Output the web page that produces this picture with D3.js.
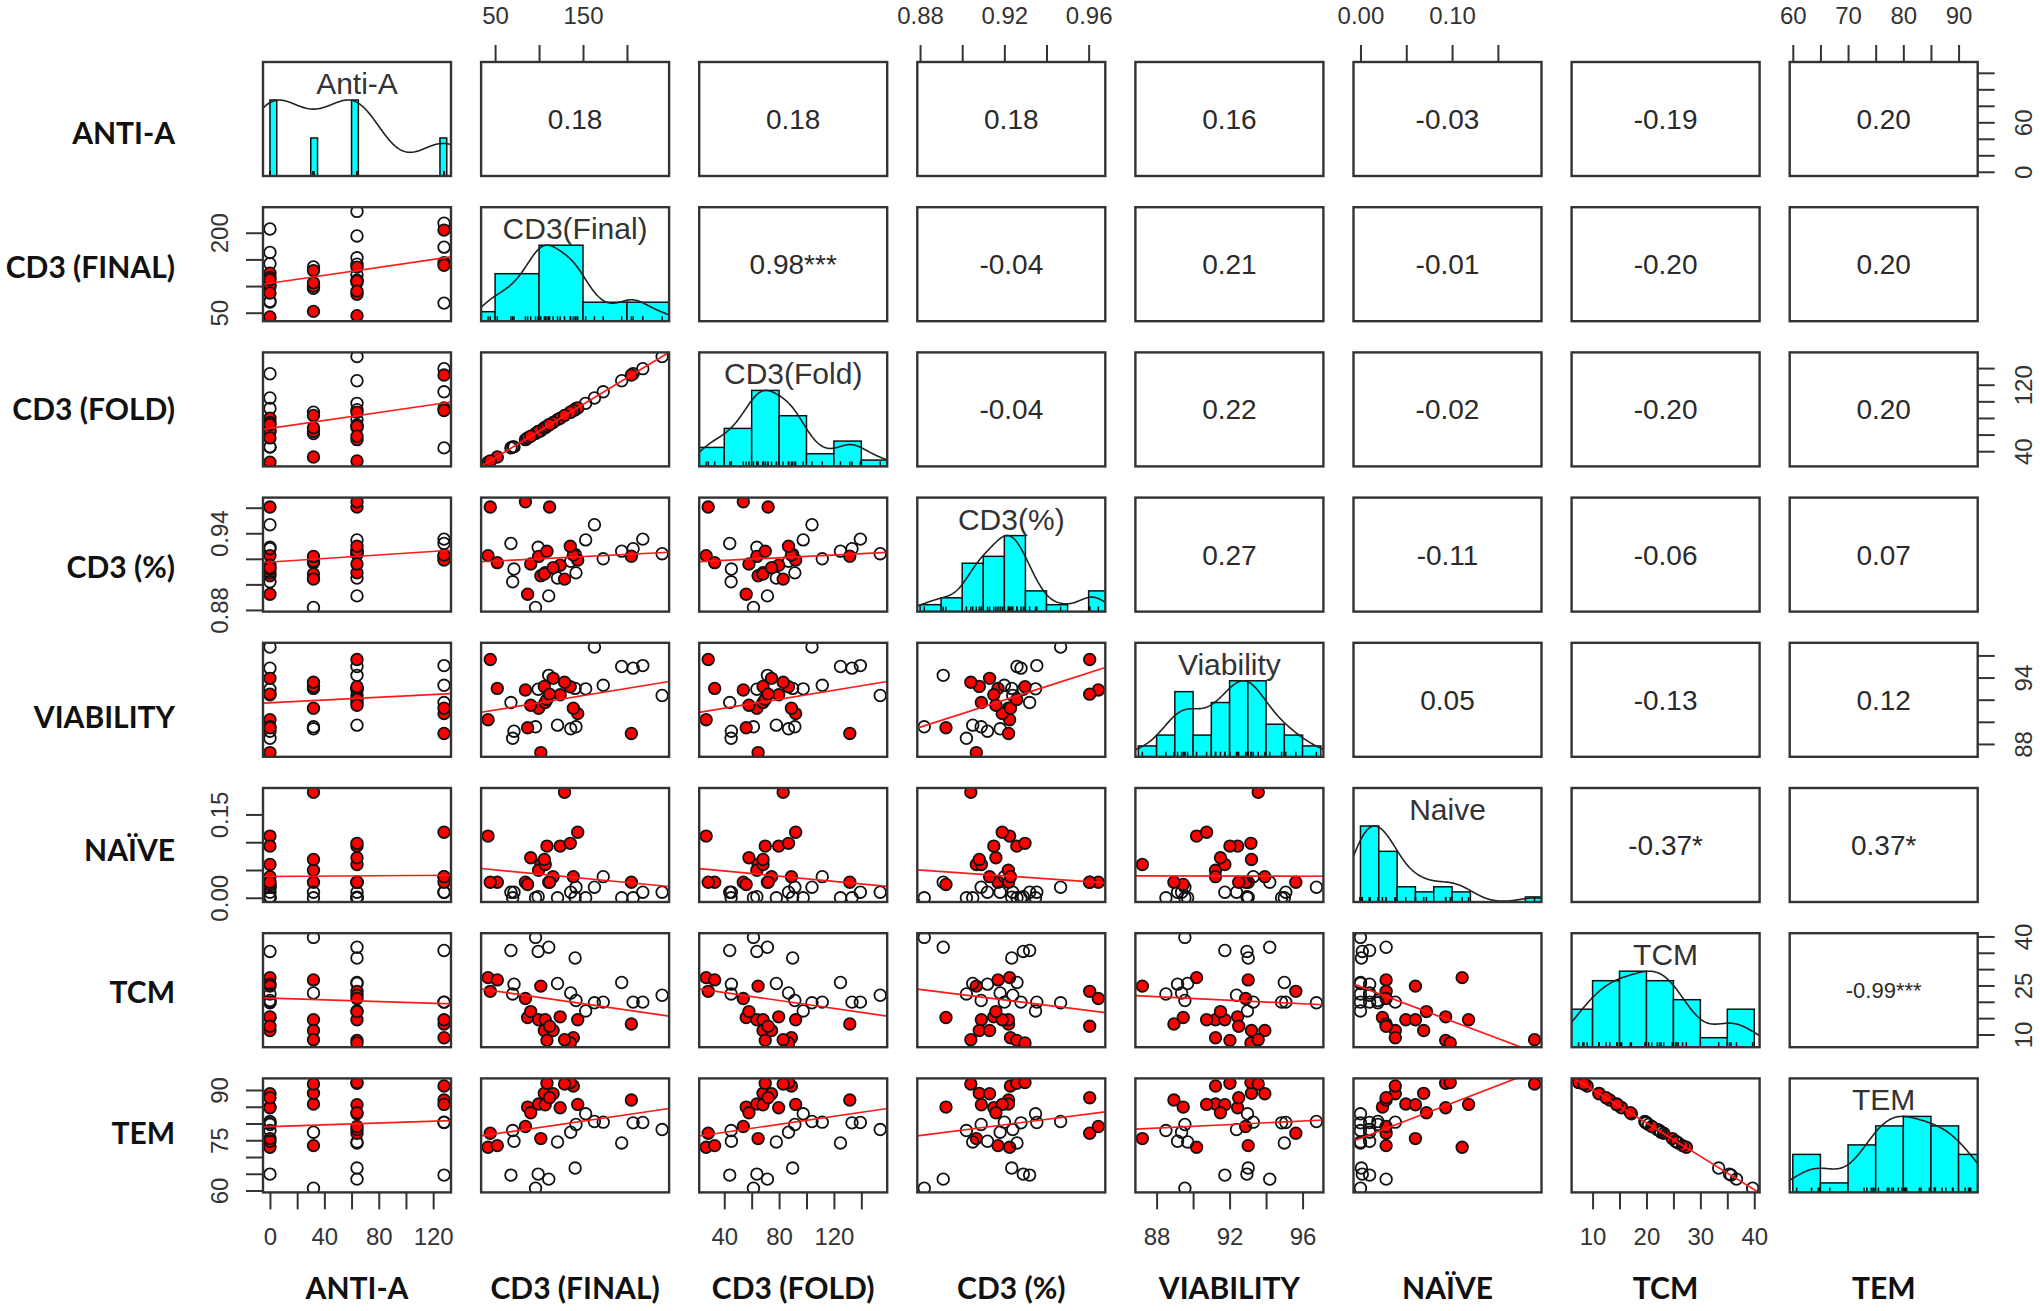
<!DOCTYPE html>
<html><head><meta charset="utf-8">
<script src="https://cdn.jsdelivr.net/npm/d3@7"></script>
<style>html,body{margin:0;padding:0;background:#fff}svg{display:block}</style>
</head><body>
<svg id="chart" width="2040" height="1311"></svg>
<script>
// ---------------- DATA ----------------
const rowLabels  = ["ANTI-A","CD3 (FINAL)","CD3 (FOLD)","CD3 (%)","VIABILITY","NAÏVE","TCM","TEM"];
const diagTitles = ["Anti-A","CD3(Final)","CD3(Fold)","CD3(%)","Viability","Naive","TCM","TEM"];

const antiA     = [32,64,128,0,64,0,32,64,0,0,64,64,0,32,0,64,64,128,64,0,128,0,0,128,32,64,0,128,32,0,128,64,64,32,0,64];
const cd3Final  = [96.0,111.0,68.0,99.0,141.0,42.0,52.5,194.0,102.0,71.5,121.0,44.5,70.0,136.0,142.0,240.0,84.5,173.0,153.0,207.0,218.0,163.0,87.0,205.0,99.5,107.0,124.0,144.0,106.0,116.0,139.0,109.0,135.5,129.0,112.0,90.5];
const cd3Fold   = [61.3,71.5,44.0,63.8,89.9,26.8,33.0,124.8,64.7,45.2,78.0,28.3,45.0,86.9,91.5,153.8,53.9,111.5,97.6,133.2,139.3,104.0,56.0,131.6,63.8,68.3,79.7,92.1,68.3,74.5,89.0,69.9,86.9,83.0,72.0,58.0];
const cd3Pct    = [0.882,0.891,0.932,0.929,0.9235,0.9225,0.917,0.926,0.9067,0.912,0.905,0.9605,0.902,0.918,0.909,0.924,0.9646,0.920,0.9348,0.9279,0.9354,0.9467,0.8923,0.9220,0.9219,0.9091,0.915,0.919,0.9081,0.913,0.9229,0.9259,0.9298,0.9041,0.9605,0.916];
const viability = [89.55,94.20,91.74,92.95,93.02,90.19,93.02,95.00,87.22,89.15,89.70,95.63,88.51,89.37,89.55,92.38,92.88,93.30,92.98,94.85,95.08,96.76,89.46,88.95,91.23,91.74,92.44,90.74,93.20,93.93,91.23,92.02,93.17,93.57,92.50,91.50];
const naive     = [0.000,0.028,0.010,0.002,0.001,0.111,0.028,0.000,0.060,0.010,0.000,0.028,0.000,0.010,0.019,0.010,0.028,0.038,0.000,0.000,0.010,0.019,0.024,0.028,0.0495,0.060,0.093,0.118,0.069,0.038,0.038,0.093,0.098,0.190,0.028,0.072];
const tcm       = [39.7,36.7,35.7,35.4,33.4,27.4,26.7,25.9,24.8,25.4,25.6,23.2,22.4,22.7,20.4,22.0,21.0,19.9,17.2,19.9,19.9,19.7,15.2,13.2,14.5,14.5,15.4,14.5,11.2,11.2,9.0,8.2,7.4,8.4,12.5,17.0];
const tem       = [60.7,63.4,64.6,64.9,66.7,72.9,73.4,74.2,75.5,74.7,74.5,77.1,77.9,77.4,79.7,78.2,79.1,80.4,82.9,80.2,80.3,80.6,84.9,87.0,85.8,85.6,84.7,85.7,89.0,88.9,91.2,92.0,92.2,91.8,87.7,83.2];
const group     = [0,0,0,0,0,1,1,0,1,0,0,1,0,0,0,0,1,0,0,0,0,0,1,1,1,1,1,1,1,1,1,1,1,1,1,1];

// correlation labels (upper triangle, row by row)
const corrLabels = [
  ["0.18","0.18","0.18","0.16","-0.03","-0.19","0.20"],
  ["0.98***","-0.04","0.21","-0.01","-0.20","0.20"],
  ["-0.04","0.22","-0.02","-0.20","0.20"],
  ["0.27","-0.11","-0.06","0.07"],
  ["0.05","-0.13","0.12"],
  ["-0.37*","0.37*"],
  ["-0.99***"]
];

// tick values and which ticks carry labels (outer = top/bottom axis, side = left/right axis)
const antiATicks = [0,20,40,60,80,100,120],  antiAOuter = [0,40,80,120],    antiASide = [0,60];
const finalTicks = [50,100,150,200],          finalOuter = [50,150],         finalSide = [50,200];
const foldTicks  = [40,60,80,100,120,140],    foldOuter  = [40,80,120],      foldSide  = [40,120];
const pctTicks   = [0.88,0.90,0.92,0.94,0.96],pctOuter   = [0.88,0.92,0.96], pctSide   = [0.88,0.94];
const viaTicks   = [88,90,92,94,96],          viaOuter   = [88,92,96],       viaSide   = [88,94];
const naiveTicks = [0,0.05,0.10,0.15],        naiveOuter = [0,0.10],         naiveSide = [0,0.15];
const tcmTicks   = [10,15,20,25,30,35,40],    tcmOuter   = [10,20,30,40],    tcmSide   = [10,25,40];
const temTicks   = [60,65,70,75,80,85,90],    temOuter   = [60,70,80,90],    temSide   = [60,75,90];

// histogram breaks
const antiABreaks = d3.range(0,131,5);
const finalBreaks = [0,50,100,150,200,250];
const foldBreaks  = [20,40,60,80,100,120,140,160];
const pctBreaks   = [0.88,0.89,0.90,0.91,0.92,0.93,0.94,0.95,0.96,0.97];
const viaBreaks   = [87,88,89,90,91,92,93,94,95,96,97];
const naiveBreaks = [0,0.02,0.04,0.06,0.08,0.10,0.12,0.14,0.16,0.18,0.20];
const tcmBreaks   = [5,10,15,20,25,30,35,40];
const temBreaks   = [60,65,70,75,80,85,90,95];

// ---------------- LAYOUT ----------------
const L = {x0:263, y0:62, dx:218.1, dy:145.2, w:188, h:114};
const rowLabelShift = [14, 3, 0, 13, 17, 5, 2, -2];
const N = antiA.length;
const f0 = d3.format("d"), f2 = d3.format(".2f");

const specs = [
  {values:antiA,     ticks:antiATicks, outer:antiAOuter, side:antiASide, breaks:antiABreaks, fmt:f0},
  {values:cd3Final,  ticks:finalTicks, outer:finalOuter, side:finalSide, breaks:finalBreaks, fmt:f0},
  {values:cd3Fold,   ticks:foldTicks,  outer:foldOuter,  side:foldSide,  breaks:foldBreaks,  fmt:f0},
  {values:cd3Pct,    ticks:pctTicks,   outer:pctOuter,   side:pctSide,   breaks:pctBreaks,   fmt:f2},
  {values:viability, ticks:viaTicks,   outer:viaOuter,   side:viaSide,   breaks:viaBreaks,   fmt:f0},
  {values:naive,     ticks:naiveTicks, outer:naiveOuter, side:naiveSide, breaks:naiveBreaks, fmt:f2},
  {values:tcm,       ticks:tcmTicks,   outer:tcmOuter,   side:tcmSide,   breaks:tcmBreaks,   fmt:f0},
  {values:tem,       ticks:temTicks,   outer:temOuter,   side:temSide,   breaks:temBreaks,   fmt:f0}
];
specs.forEach(s => {
  const e = d3.extent(s.values), p = (e[1]-e[0])*0.04;
  s.domain = [e[0]-p, e[1]+p];
  s.x = d3.scaleLinear().domain(s.domain).range([0, L.w]);
  s.y = d3.scaleLinear().domain(s.domain).range([L.h, 0]);
});

const svg = d3.select("#chart");
svg.append("rect").attr("width",2040).attr("height",1311).attr("fill","#fff");
svg.append("defs").append("clipPath").attr("id","pclip")
   .append("rect").attr("x",0).attr("y",0).attr("width",L.w).attr("height",L.h);

const NUMFONT = "'Liberation Sans', Arial, sans-serif";
const LABFONT = "Lato, 'Open Sans', sans-serif";

function histCounts(vals, br){
  const c = new Array(br.length-1).fill(0);
  vals.forEach(v => {
    for (let k=0;k<br.length-1;k++){
      const a=br[k], b=br[k+1];
      if ((v>a || (k===0 && v>=a)) && v<=b+1e-9){ c[k]++; break; }
    }
  });
  return c;
}
function bwNrd0(x){
  const s = d3.deviation(x), srt = x.slice().sort(d3.ascending);
  const iqr = d3.quantileSorted(srt,0.75) - d3.quantileSorted(srt,0.25);
  let lo = Math.min(s, iqr/1.34); if (!(lo>0)) lo = s;
  return 0.9*lo*Math.pow(x.length,-0.2);
}

for (let i=0;i<8;i++){
  for (let j=0;j<8;j++){
    const g = svg.append("g").attr("transform",`translate(${L.x0+j*L.dx},${L.y0+i*L.dy})`);
    const inner = g.append("g").attr("clip-path","url(#pclip)");
    if (i>j){
      const sx = specs[j], sy = specs[i], xv = sx.values, yv = sy.values;
      const mx = d3.mean(xv), my = d3.mean(yv);
      const b = d3.sum(xv,(v,k)=>(v-mx)*(yv[k]-my)) / d3.sum(xv,v=>(v-mx)*(v-mx));
      const a = my - b*mx;
      inner.selectAll("circle").data(d3.range(N)).join("circle")
        .attr("cx",k=>sx.x(xv[k])).attr("cy",k=>sy.y(yv[k])).attr("r",5.8)
        .attr("fill",k=>group[k] ? "#ff0000" : "none")
        .attr("stroke","#111").attr("stroke-width",1.8);
      inner.append("line")
        .attr("x1",sx.x(sx.domain[0])).attr("x2",sx.x(sx.domain[1]))
        .attr("y1",sy.y(a+b*sx.domain[0])).attr("y2",sy.y(a+b*sx.domain[1]))
        .attr("stroke","#ff1a1a").attr("stroke-width",1.7);
    } else if (i<j){
      const txt = corrLabels[i][j-i-1];
      g.append("text").attr("x",L.w/2).attr("y",L.h/2).attr("dy","0.36em")
        .attr("text-anchor","middle").attr("font-family",NUMFONT)
        .attr("font-size", txt.length>7 ? 22 : 28).attr("fill","#2a2a2a").text(txt);
    } else {
      const s = specs[i];
      const c = histCounts(s.values, s.breaks);
      const yh = d3.scaleLinear().domain([0, d3.max(c)*1.5]).range([L.h,0]);
      inner.selectAll("rect.bar").data(c.map((v,k)=>({v,k})).filter(d=>d.v>0)).join("rect")
        .attr("class","bar")
        .attr("x",d=>s.x(s.breaks[d.k])).attr("width",d=>s.x(s.breaks[d.k+1])-s.x(s.breaks[d.k]))
        .attr("y",d=>yh(d.v)).attr("height",d=>L.h-yh(d.v))
        .attr("fill","#00ffff").attr("stroke","#111").attr("stroke-width",1.5);
      const bw = bwNrd0(s.values);
      const grid = d3.range(241).map(t => s.domain[0] + t*(s.domain[1]-s.domain[0])/240);
      const dens = grid.map(t => d3.mean(s.values, v => Math.exp(-0.5*((t-v)/bw)**2))/(bw*Math.sqrt(2*Math.PI)));
      const yd = d3.scaleLinear().domain([0, d3.max(dens)*1.5]).range([L.h,0]);
      inner.append("path").datum(grid.map((t,k)=>[t,dens[k]]))
        .attr("d", d3.line().x(d=>s.x(d[0])).y(d=>yd(d[1])))
        .attr("fill","none").attr("stroke","#222").attr("stroke-width",1.6);
      inner.selectAll("line.rug").data(s.values).join("line").attr("class","rug")
        .attr("x1",v=>s.x(v)).attr("x2",v=>s.x(v)).attr("y1",L.h).attr("y2",L.h-5)
        .attr("stroke","#111").attr("stroke-width",1.5);
      g.append("text").attr("x",L.w/2).attr("y",32).attr("text-anchor","middle")
        .attr("font-family",NUMFONT).attr("font-size",30).attr("fill","#333").text(diagTitles[i]);
    }
    g.append("rect").attr("width",L.w).attr("height",L.h).attr("fill","none")
      .attr("stroke","#333").attr("stroke-width",2.4);
  }
}

function styleAxis(g){
  g.select(".domain").remove();
  g.attr("font-family",NUMFONT).attr("font-size",24);
  g.selectAll(".tick line").attr("stroke","#333").attr("stroke-width",2);
  g.selectAll(".tick text").attr("fill","#333");
}
const lbl = (s, arr) => d => arr.includes(d) ? s.fmt(d) : "";

specs.forEach((s,j) => {
  const cx = L.x0 + j*L.dx;
  if (j%2===0){
    const g = svg.append("g").attr("transform",`translate(${cx},${L.y0+7*L.dy+L.h})`)
      .call(d3.axisBottom(s.x).tickValues(s.ticks).tickSize(17).tickPadding(19).tickFormat(lbl(s,s.outer)));
    styleAxis(g);
  } else {
    const g = svg.append("g").attr("transform",`translate(${cx},${L.y0})`)
      .call(d3.axisTop(s.x).tickValues(s.ticks).tickSize(17).tickPadding(21).tickFormat(lbl(s,s.outer)));
    styleAxis(g);
  }
});
specs.forEach((s,i) => {
  const ry = L.y0 + i*L.dy;
  if (i%2===0){
    const g = svg.append("g").attr("transform",`translate(${L.x0+7*L.dx+L.w},${ry})`)
      .call(d3.axisRight(s.y).tickValues(s.ticks).tickSize(17).tickFormat(lbl(s,s.side)));
    styleAxis(g);
    g.selectAll(".tick text").attr("transform","rotate(-90)").attr("x",0).attr("y",54).attr("dy",0).attr("text-anchor","middle");
  } else {
    const g = svg.append("g").attr("transform",`translate(${L.x0},${ry})`)
      .call(d3.axisLeft(s.y).tickValues(s.ticks).tickSize(17).tickFormat(lbl(s,s.side)));
    styleAxis(g);
    g.selectAll(".tick text").attr("transform","rotate(-90)").attr("x",0).attr("y",-35).attr("dy",0).attr("text-anchor","middle");
  }
});

// row and column labels
rowLabels.forEach((t,i) => {
  svg.append("text").attr("x",175).attr("y",L.y0+i*L.dy+L.h/2+rowLabelShift[i]).attr("dy","0.36em")
    .attr("text-anchor","end").attr("font-family",LABFONT).attr("font-weight",700)
    .attr("font-size",30).attr("fill","#111").text(t);
  svg.append("text").attr("x",L.x0+i*L.dx+L.w/2).attr("y",1288).attr("dy","0.36em")
    .attr("text-anchor","middle").attr("font-family",LABFONT).attr("font-weight",700)
    .attr("font-size",30).attr("fill","#111").text(t);
});
</script>
</body></html>
